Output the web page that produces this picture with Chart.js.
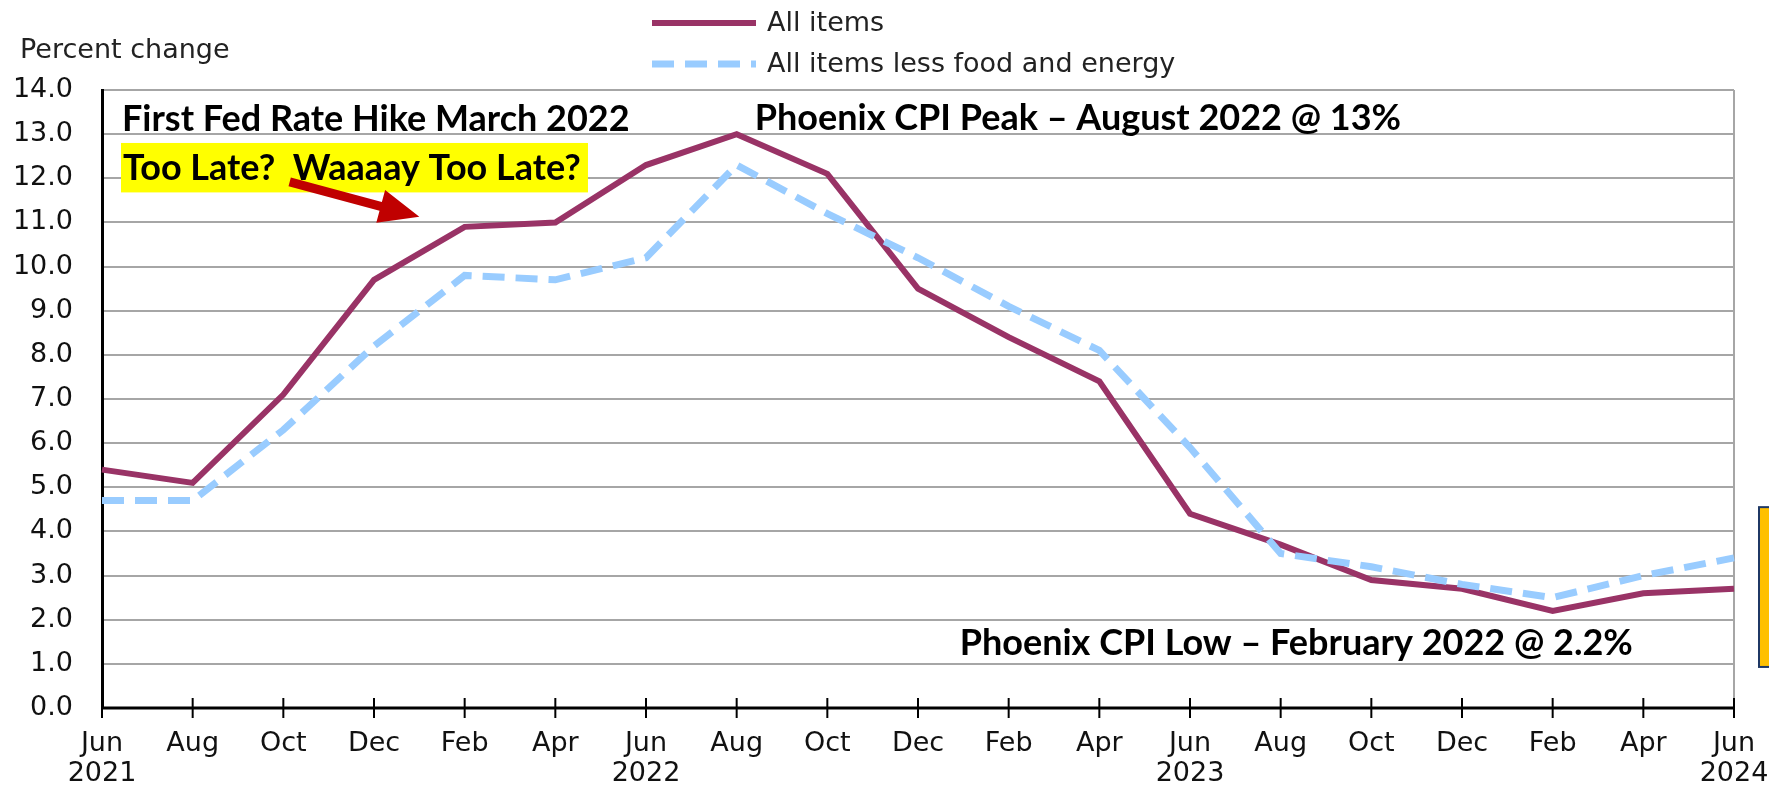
<!DOCTYPE html>
<html>
<head>
<meta charset="utf-8">
<script src="https://cdn.jsdelivr.net/npm/chart.js@4.4.1/dist/chart.umd.min.js"></script>
<style>
  html, body { margin: 0; padding: 0; background: #ffffff; }
  #wrap { width: 1769px; height: 788px; position: relative; }
</style>
</head>
<body>
<div id="wrap"><canvas id="c" width="1769" height="788"></canvas></div>
<script>
// ---- data ----
const categories = ["Jun 2021","Aug 2021","Oct 2021","Dec 2021","Feb 2022","Apr 2022","Jun 2022","Aug 2022","Oct 2022","Dec 2022","Feb 2023","Apr 2023","Jun 2023","Aug 2023","Oct 2023","Dec 2023","Feb 2024","Apr 2024","Jun 2024"];
const monthLabels = ["Jun","Aug","Oct","Dec","Feb","Apr","Jun","Aug","Oct","Dec","Feb","Apr","Jun","Aug","Oct","Dec","Feb","Apr","Jun"];
const yearLabels  = ["2021","","","","","","2022","","","","","","2023","","","","","","2024"];
const allItems  = [5.4, 5.1, 7.1, 9.7, 10.9, 11.0, 12.3, 13.0, 12.1, 9.5, 8.4, 7.4, 4.4, 3.7, 2.9, 2.7, 2.2, 2.6, 2.7];
const coreItems = [4.7, 4.7, 6.3, 8.2, 9.8, 9.7, 10.2, 12.3, 11.2, 10.2, 9.1, 8.1, 5.9, 3.5, 3.2, 2.8, 2.5, 3.0, 3.4];
const seriesNames = ["All items", "All items less food and energy"];
const yTickMin = 0, yTickMax = 14, yTickStep = 1;
const yAxisTitle = "Percent change";
const noteHike = "First Fed Rate Hike March 2022";
const noteLate = "Too Late?  Waaaay Too Late?";
const notePeak = "Phoenix CPI Peak \u2013 August 2022 @ 13%";
const noteLow  = "Phoenix CPI Low \u2013 February 2022 @ 2.2%";

const TXT = "'DejaVu Sans', 'Liberation Sans', Arial, sans-serif";
const BOLD = "bold 36px Lato, 'Open Sans', sans-serif";

const overlay = {
  id: 'overlay',
  beforeDatasetsDraw(chart) {
    const { ctx, chartArea: a, scales: { x, y } } = chart;
    ctx.save();
    // right border
    ctx.strokeStyle = '#a6a6a6'; ctx.lineWidth = 2;
    ctx.beginPath(); ctx.moveTo(a.right, a.top); ctx.lineTo(a.right, a.bottom); ctx.stroke();
    // x axis line + crossing ticks
    const y0 = y.getPixelForValue(0);
    ctx.strokeStyle = '#000'; ctx.lineWidth = 3;
    ctx.beginPath(); ctx.moveTo(a.left, y0); ctx.lineTo(a.right + 1, y0); ctx.stroke();
    ctx.lineWidth = 2;
    categories.forEach((c, i) => {
      const px = x.getPixelForValue(i);
      ctx.beginPath(); ctx.moveTo(px, y0 - 10); ctx.lineTo(px, y0 + 10); ctx.stroke();
    });
    // yellow highlight box
    ctx.fillStyle = '#ffff00';
    const bx0 = a.left + 19, bx1 = x.getPixelForValue(5.36);
    const by0 = y.getPixelForValue(12.8), by1 = y.getPixelForValue(11.68);
    ctx.fillRect(bx0, by0, bx1 - bx0, by1 - by0);
    ctx.restore();
  },
  afterDatasetsDraw(chart) {
    const { ctx, chartArea: a, scales: { x, y } } = chart;
    ctx.save();
    // annotation texts
    ctx.fillStyle = '#000';
    ctx.font = BOLD;
    ctx.textBaseline = 'middle';
    ctx.textAlign = 'left';
    ctx.fillText(noteHike, a.left + 20, y.getPixelForValue(13.33));
    ctx.fillText(noteLate, a.left + 21, y.getPixelForValue(12.22));
    ctx.fillText(notePeak, x.getPixelForValue(7.2), y.getPixelForValue(13.36));
    ctx.fillText(noteLow, x.getPixelForValue(9.46), y.getPixelForValue(1.47));

    // red arrow
    const sx = x.getPixelForValue(2.07), sy = y.getPixelForValue(11.92);
    const ex = x.getPixelForValue(3.5), ey = y.getPixelForValue(11.13);
    const ang = Math.atan2(ey - sy, ex - sx);
    const headLen = 40, headHalf = 17, shaft = 4.5;
    const hx = ex - headLen * Math.cos(ang), hy = ey - headLen * Math.sin(ang);
    const nx = -Math.sin(ang), ny = Math.cos(ang);
    ctx.fillStyle = '#c00000';
    ctx.beginPath();
    ctx.moveTo(sx + nx * shaft, sy + ny * shaft);
    ctx.lineTo(hx + nx * shaft, hy + ny * shaft);
    ctx.lineTo(hx + nx * headHalf, hy + ny * headHalf);
    ctx.lineTo(ex, ey);
    ctx.lineTo(hx - nx * headHalf, hy - ny * headHalf);
    ctx.lineTo(hx - nx * shaft, hy - ny * shaft);
    ctx.lineTo(sx - nx * shaft, sy - ny * shaft);
    ctx.closePath();
    ctx.fill();

    // orange box at right edge
    const oy0 = y.getPixelForValue(4.55), oy1 = y.getPixelForValue(0.93);
    ctx.fillStyle = '#ffc000';
    ctx.fillRect(a.right + 25, oy0, 40, oy1 - oy0);
    ctx.strokeStyle = '#1f3864'; ctx.lineWidth = 2;
    ctx.strokeRect(a.right + 25, oy0, 40, oy1 - oy0);

    // y axis title
    ctx.fillStyle = '#222';
    ctx.font = "27px " + TXT;
    ctx.textAlign = 'left';
    ctx.fillText(yAxisTitle, 20, 51);

    // legend
    const lx0 = 652, lx1 = 756, ly = [23, 64];
    chart.data.datasets.forEach((ds) => {
      const k = seriesNames.indexOf(ds.label);
      ctx.strokeStyle = ds.borderColor;
      ctx.lineWidth = ds.borderWidth;
      ctx.setLineDash(ds.borderDash || []);
      ctx.lineCap = 'butt';
      ctx.beginPath(); ctx.moveTo(lx0, ly[k]); ctx.lineTo(lx1, ly[k]); ctx.stroke();
      ctx.setLineDash([]);
      ctx.fillStyle = '#222';
      ctx.fillText(ds.label, 767, ly[k] + 1);
    });
    ctx.restore();
  }
};

new Chart(document.getElementById('c'), {
  type: 'line',
  data: {
    labels: categories,
    datasets: [
      {
        label: seriesNames[0], data: allItems,
        borderColor: '#993366', borderWidth: 6, pointRadius: 0, tension: 0,
        order: 1, fill: false
      },
      {
        label: seriesNames[1], data: coreItems,
        borderColor: '#99ccff', borderWidth: 7, borderDash: [22, 11], pointRadius: 0, tension: 0,
        order: 0, fill: false
      }
    ]
  },
  options: {
    responsive: false,
    animation: false,
    devicePixelRatio: 1,
    layout: { padding: { top: 90, right: 35, bottom: 0, left: 0 } },
    plugins: { legend: { display: false }, tooltip: { enabled: false }, title: { display: false } },
    scales: {
      x: {
        type: 'category',
        offset: false,
        grid: { display: false, drawTicks: false },
        border: { display: false },
        afterFit(s) { s.height = 80; s.paddingLeft = 0; s.paddingRight = 0; },
        ticks: {
          autoSkip: false, maxRotation: 0, minRotation: 0, padding: 21,
          color: '#111',
          font: { family: TXT, size: 27, lineHeight: 1.12 },
          callback: (v, i) => [monthLabels[i], yearLabels[i]]
        }
      },
      y: {
        min: yTickMin, max: yTickMax,
        grid: { color: '#a6a6a6', lineWidth: 2, drawTicks: false },
        border: { display: true, color: '#000', width: 3 },
        afterFit(s) { s.width = 102; s.paddingTop = 0; s.paddingBottom = 0; },
        ticks: {
          stepSize: yTickStep, padding: 29, color: '#111',
          font: { family: TXT, size: 27 },
          callback: (v) => Number(v).toFixed(1)
        }
      }
    }
  },
  plugins: [overlay]
});
</script>
</body>
</html>
